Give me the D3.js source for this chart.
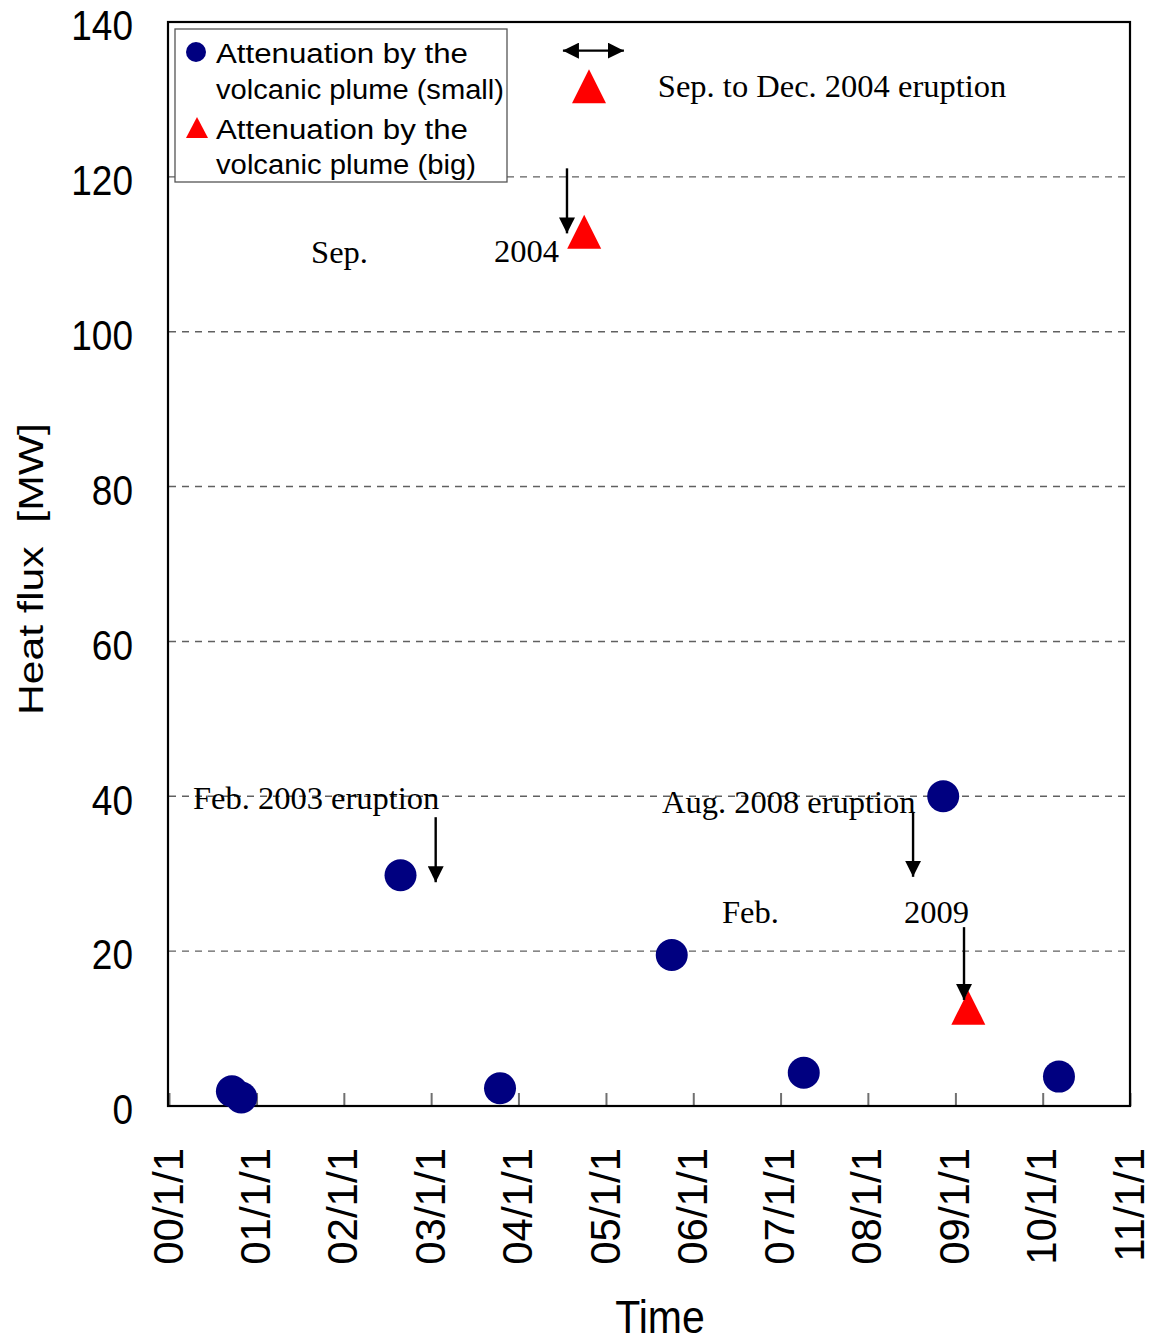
<!DOCTYPE html>
<html>
<head>
<meta charset="utf-8">
<script src="https://cdn.jsdelivr.net/npm/d3@7"></script>
<style>
  body { margin: 0; background: #fff; }
  svg { display: block; }
</style>
</head>
<body>
<svg id="chart" width="1150" height="1342"></svg>
<script>
// ---- data ----
const xTickLabels = ["00/1/1","01/1/1","02/1/1","03/1/1","04/1/1","05/1/1","06/1/1","07/1/1","08/1/1","09/1/1","10/1/1","11/1/1"];
const yTickValues = [0, 20, 40, 60, 80, 100, 120, 140];

// heat flux with small attenuation by the volcanic plume
const smallDates  = ["2000-09-20","2000-10-29","2002-08-26","2003-10-16","2005-10-03","2007-04-08","2008-11-11","2010-03-10"];
const smallValues = [1.9, 1.1, 29.8, 2.3, 19.5, 4.3, 40.0, 3.8];

// heat flux with big attenuation by the volcanic plume
const bigDates  = ["2004-10-02","2009-02-24"];
const bigValues = [112.9, 12.7];

// annotation texts: label, left date, baseline value
const noteTexts  = ["Sep. to Dec. 2004 eruption", "Sep.", "2004", "Feb. 2003 eruption", "Aug. 2008 eruption", "Feb.", "2009"];
const noteDates  = ["2005-08-06","2001-08-17","2003-09-21","2000-04-10","2005-08-23","2006-05-01","2008-05-31"];
const noteValues = [130.3, 108.9, 109.0, 38.4, 37.8, 23.6, 23.6];

// downward arrows: date, start value, tip value
const arrowDates = ["2004-07-22","2003-01-20","2008-07-08","2009-02-06"];
const arrowFrom  = [121.1, 37.3, 38.0, 23.1];
const arrowTo    = [112.7, 28.9, 29.6, 13.7];

// eruption period marker (double arrow and triangle)
const periodStart = "2004-07-05", periodEnd = "2005-03-17", periodValue = 136.3;
const periodMarkDate = "2004-10-22", periodMarkValue = 131.7;

const legendLabels = [["Attenuation by the", "volcanic plume (small)"], ["Attenuation by the", "volcanic plume (big)"]];

// ---- layout ----
const parse = d3.timeParse("%Y-%m-%d");
const svg = d3.select("#chart");
const plotLeft = 169, plotRight = 1130, plotTop = 22, plotBottom = 1106;

const x = d3.scaleTime()
  .domain([new Date(2000, 0, 1), new Date(2011, 0, 1)])
  .range([plotLeft, plotRight]);
const y = d3.scaleLinear().domain([0, 140]).range([plotBottom, plotTop]);

const sans = "'Liberation Sans', Arial, Helvetica, sans-serif";
const serif = "'Liberation Serif', 'Times New Roman', serif";

// gridlines
svg.append("g")
  .selectAll("line")
  .data(yTickValues.filter(v => v > 0 && v < 140))
  .join("line")
  .attr("x1", plotLeft).attr("x2", plotRight)
  .attr("y1", d => y(d)).attr("y2", d => y(d))
  .attr("stroke", "#606060")
  .attr("stroke-width", 1.4)
  .attr("stroke-dasharray", "7,6");

// x axis ticks (pointing inward) and rotated labels
const yearDates = d3.range(2000, 2012).map(yr => new Date(yr, 0, 1));
const xAxis = d3.axisBottom(x)
  .tickValues(yearDates)
  .tickSizeInner(-13)
  .tickSizeOuter(0)
  .tickFormat((d, i) => xTickLabels[i]);
const gx = svg.append("g").attr("transform", `translate(0,${plotBottom})`).call(xAxis);
gx.select(".domain").remove();
gx.selectAll(".tick line").attr("stroke", "#707070").attr("stroke-width", 2);
gx.selectAll(".tick text")
  .attr("font-family", sans)
  .attr("font-size", 42)
  .attr("fill", "#000")
  .attr("text-anchor", "end")
  .attr("y", 0).attr("x", 0).attr("dy", "0.36em")
  .attr("transform", "translate(-2,42) rotate(-90)");

// y axis labels
const yAxis = d3.axisLeft(y).tickValues(yTickValues).tickSize(0).tickPadding(0);
const gy = svg.append("g").attr("transform", `translate(133,0)`).call(yAxis);
gy.select(".domain").remove();
gy.selectAll(".tick text")
  .attr("font-family", sans)
  .attr("font-size", 37)
  .attr("fill", "#000")
  .attr("x", 0)
  .attr("dy", "0.42em")
  .attr("transform", "scale(1,1.14)");

// plot frame
svg.append("rect")
  .attr("x", plotLeft - 1).attr("y", plotTop)
  .attr("width", plotRight - plotLeft + 1).attr("height", plotBottom - plotTop)
  .attr("fill", "none").attr("stroke", "#000").attr("stroke-width", 2.2);

// axis titles
svg.append("text")
  .attr("transform", `translate(43,569) rotate(-90)`)
  .attr("text-anchor", "middle")
  .attr("font-family", sans).attr("font-size", 35)
  .attr("textLength", 292).attr("lengthAdjust", "spacingAndGlyphs")
  .style("white-space", "pre")
  .text("Heat flux  [MW]");
svg.append("text")
  .attr("transform", "translate(660,1333) scale(1,1.127)")
  .attr("text-anchor", "middle")
  .attr("font-family", sans).attr("font-size", 41)
  .text("Time");

// legend
const lg = svg.append("g");
lg.append("rect")
  .attr("x", 175).attr("y", 29).attr("width", 332).attr("height", 153)
  .attr("fill", "#fff").attr("stroke", "#555").attr("stroke-width", 1.3);
const legendWidths = [[252, 288], [252, 260]];
const legendBase = [[63, 99], [139, 174]];
legendLabels.forEach((lines, i) => {
  lines.forEach((t, j) => {
    lg.append("text")
      .attr("x", 216).attr("y", legendBase[i][j])
      .attr("font-family", sans).attr("font-size", 27)
      .attr("textLength", legendWidths[i][j]).attr("lengthAdjust", "spacingAndGlyphs")
      .text(t);
  });
});
lg.append("circle").attr("cx", 196).attr("cy", 52).attr("r", 10).attr("fill", "#000080");
lg.append("path").attr("d", "M197,117 L208,138 L186,138 Z").attr("fill", "#ff0000");

// triangle path centred on its bounding box
const tri = (cx, cy, h) => `M${cx},${cy - h / 2} L${cx + h / 2},${cy + h / 2} L${cx - h / 2},${cy + h / 2} Z`;

// data marks
svg.append("g")
  .selectAll("circle")
  .data(smallDates.map((d, i) => ({ date: parse(d), value: smallValues[i] })))
  .join("circle")
  .attr("cx", d => x(d.date)).attr("cy", d => y(d.value))
  .attr("r", 16)
  .attr("fill", "#000080");

svg.append("g")
  .selectAll("path")
  .data(bigDates.map((d, i) => ({ date: parse(d), value: bigValues[i] })))
  .join("path")
  .attr("d", d => tri(x(d.date), y(d.value), 34))
  .attr("fill", "#ff0000");

// annotations
const defs = svg.append("defs");
defs.append("marker")
  .attr("id", "head").attr("viewBox", "0 0 10 10")
  .attr("refX", 10).attr("refY", 5)
  .attr("markerUnits", "userSpaceOnUse")
  .attr("markerWidth", 16).attr("markerHeight", 16)
  .attr("orient", "auto-start-reverse")
  .append("path").attr("d", "M0,0 L10,5 L0,10 Z").attr("fill", "#000");

svg.append("g")
  .selectAll("line")
  .data(arrowDates.map((d, i) => ({ date: parse(d), from: arrowFrom[i], to: arrowTo[i] })))
  .join("line")
  .attr("x1", d => x(d.date)).attr("x2", d => x(d.date))
  .attr("y1", d => y(d.from)).attr("y2", d => y(d.to))
  .attr("stroke", "#000").attr("stroke-width", 2.4)
  .attr("marker-end", "url(#head)");

svg.append("line")
  .attr("x1", x(parse(periodStart))).attr("x2", x(parse(periodEnd)))
  .attr("y1", y(periodValue)).attr("y2", y(periodValue))
  .attr("stroke", "#000").attr("stroke-width", 2.4)
  .attr("marker-start", "url(#head)").attr("marker-end", "url(#head)");

svg.append("path")
  .attr("d", tri(x(parse(periodMarkDate)), y(periodMarkValue), 34))
  .attr("fill", "#ff0000");

svg.append("g")
  .selectAll("text")
  .data(noteTexts.map((t, i) => ({ t, date: parse(noteDates[i]), value: noteValues[i] })))
  .join("text")
  .attr("x", d => x(d.date)).attr("y", d => y(d.value))
  .attr("font-family", serif).attr("font-size", 32.5)
  .attr("fill", "#000")
  .text(d => d.t);
</script>
</body>
</html>
